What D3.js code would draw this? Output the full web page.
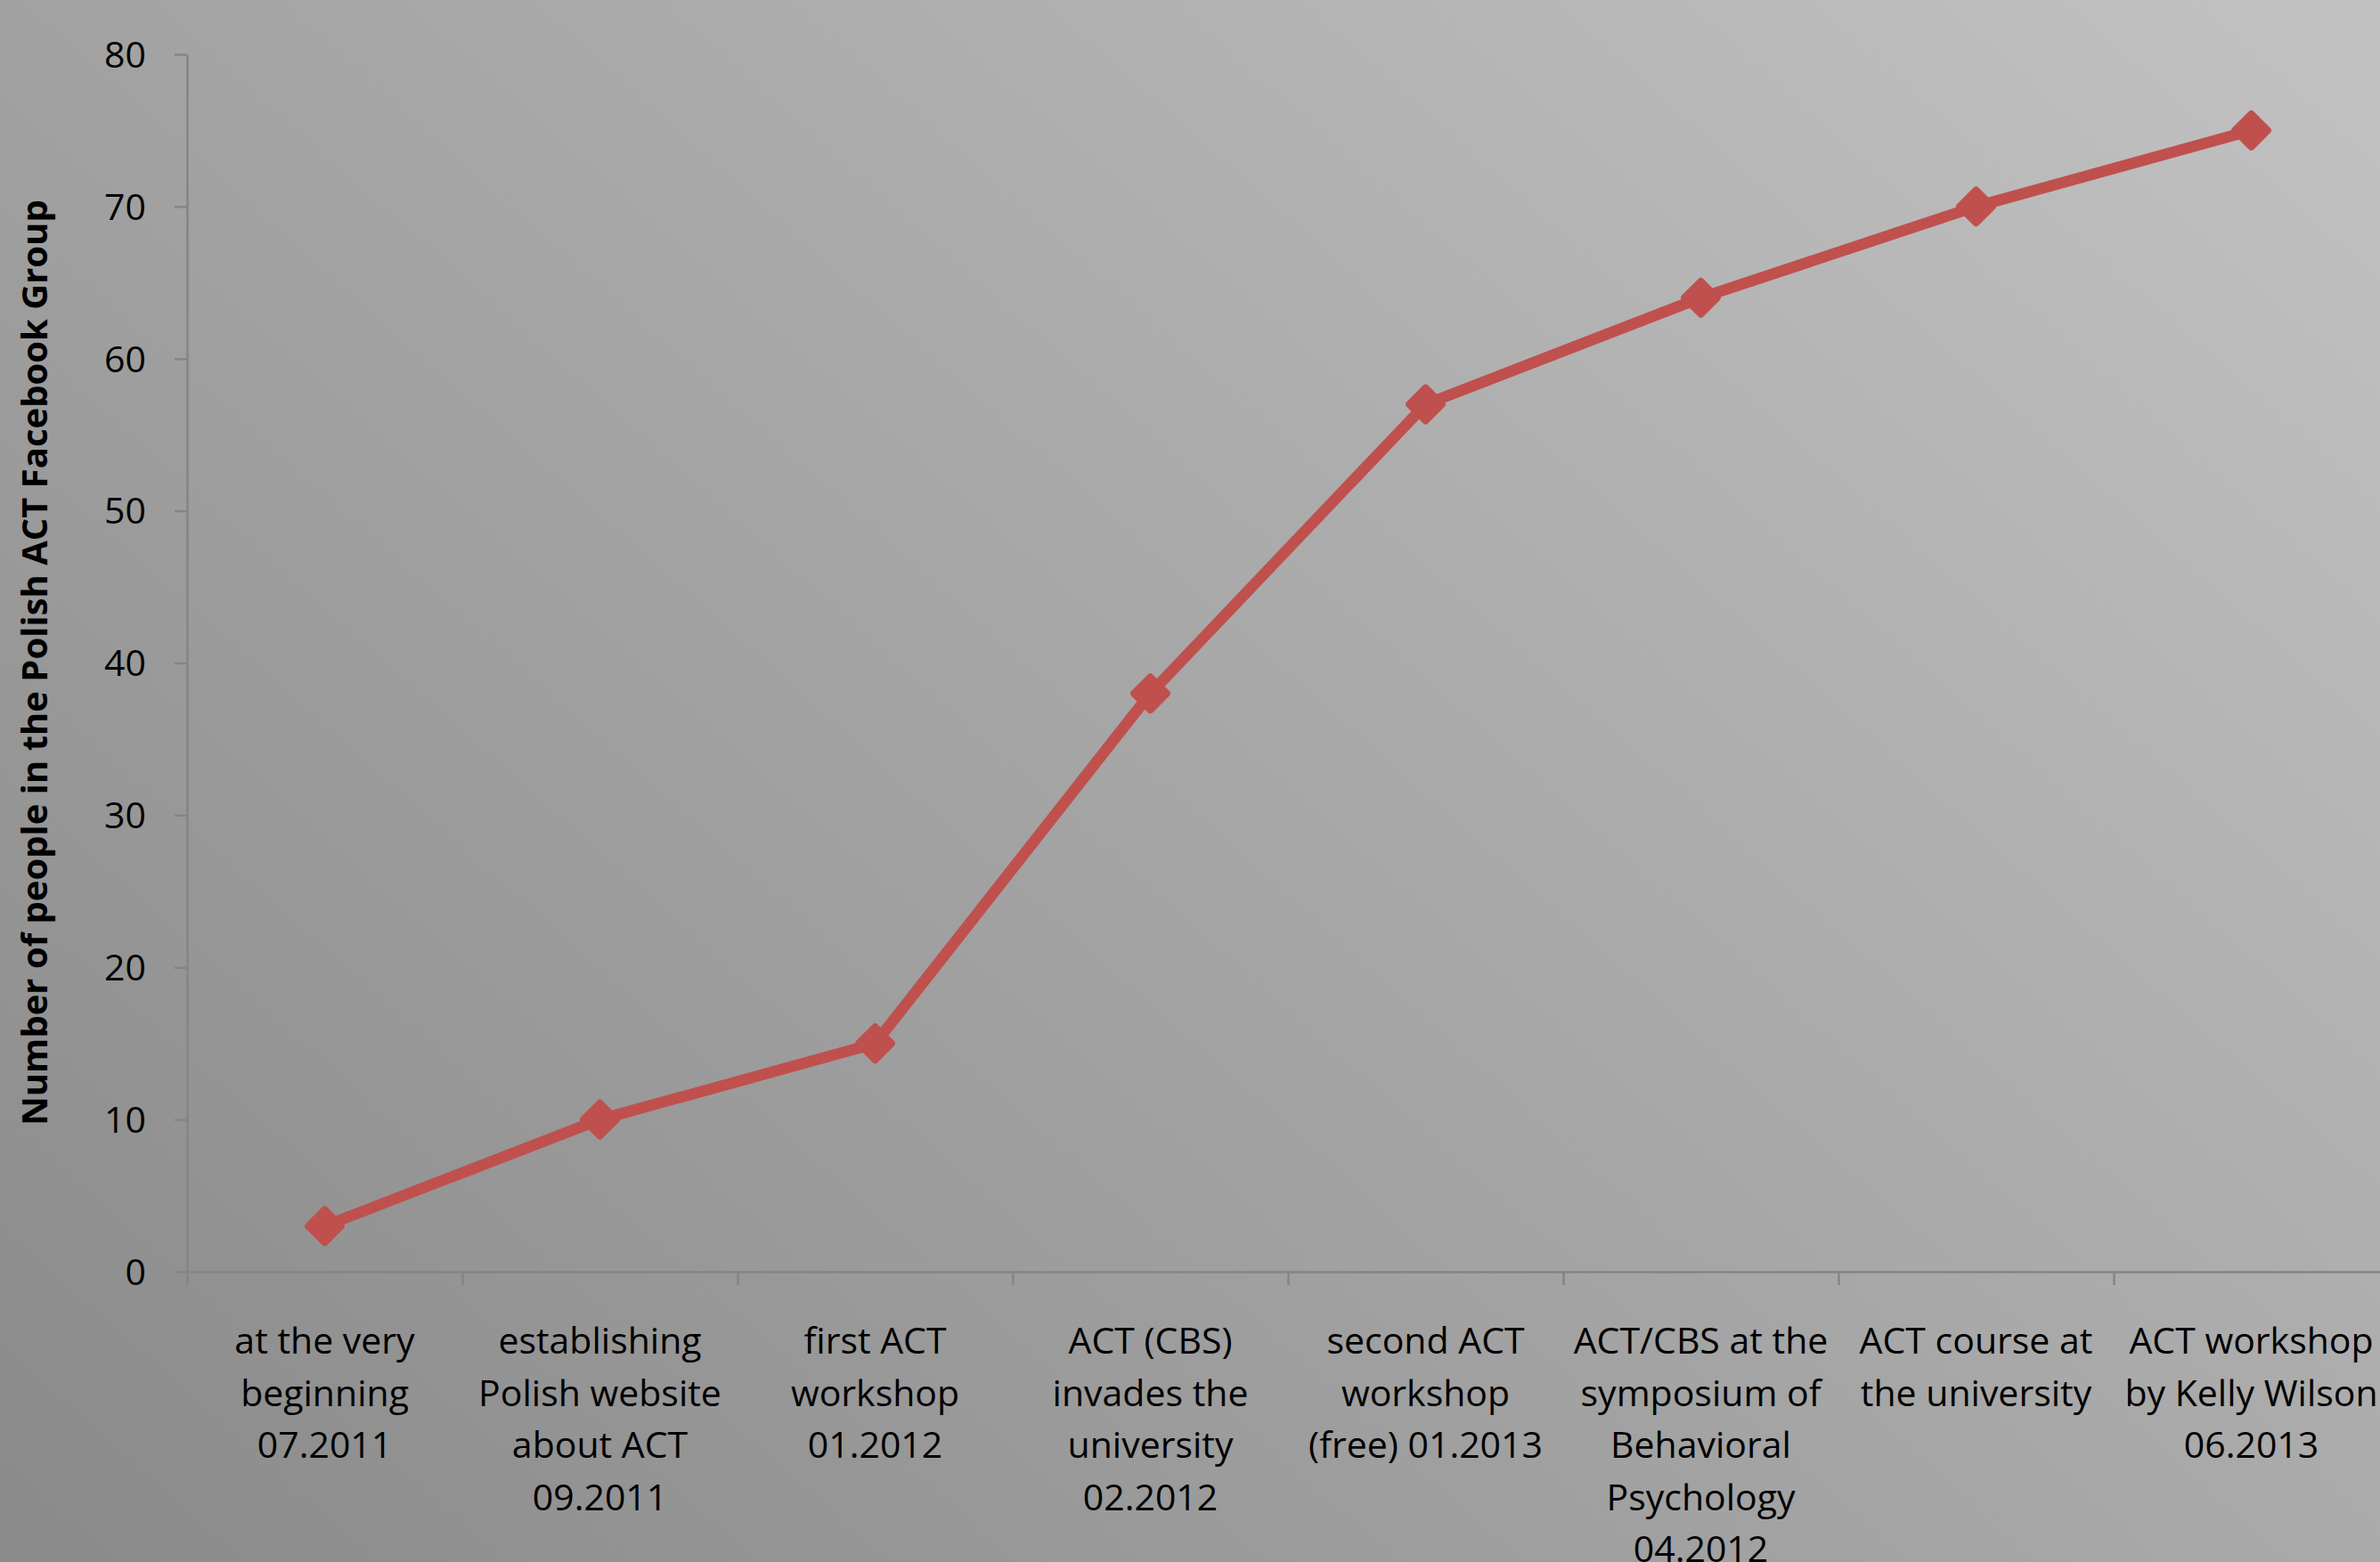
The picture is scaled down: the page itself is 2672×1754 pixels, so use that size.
<!DOCTYPE html>
<html>
<head>
<meta charset="utf-8">
<script src="https://cdn.jsdelivr.net/npm/d3@7"></script>
<style>
  html, body { margin: 0; padding: 0; overflow: hidden; }
  svg { display: block; }
  text { font-family: "Open Sans", sans-serif; fill: #000; }
</style>
</head>
<body>
<script>
// ---- data ----
const categories = [
  "at the very\nbeginning\n07.2011",
  "establishing\nPolish website\nabout ACT\n09.2011",
  "first ACT\nworkshop\n01.2012",
  "ACT (CBS)\ninvades the\nuniversity\n02.2012",
  "second ACT\nworkshop\n(free) 01.2013",
  "ACT/CBS at the\nsymposium of\nBehavioral\nPsychology\n04.2012",
  "ACT course at\nthe university",
  "ACT workshop\nby Kelly Wilson\n06.2013"
];
const members = [3, 10, 15, 38, 57, 64, 70, 75];
const yTicks = [0, 10, 20, 30, 40, 50, 60, 70, 80];
const yTitle = "Number of people in the Polish ACT Facebook Group";

// ---- layout ----
const W = 2672, H = 1754;
const plotLeft = 210, plotTop = 61, plotBottom = 1428;
const step = 309;

const svg = d3.select("body").append("svg")
  .attr("width", W).attr("height", H);

const defs = svg.append("defs");
const grad = defs.append("linearGradient")
  .attr("id", "bg").attr("gradientUnits", "userSpaceOnUse")
  .attr("x1", 50).attr("y1", 1704).attr("x2", 2004).attr("y2", -496);
grad.append("stop").attr("offset", 0).attr("stop-color", "#8b8b8b");
grad.append("stop").attr("offset", 1).attr("stop-color", "#c1c1c1");
svg.append("rect").attr("width", W).attr("height", H).attr("fill", "url(#bg)");

const x = d3.scaleBand().domain(categories).range([plotLeft, plotLeft + step * categories.length]).padding(0);
const xb = d3.scaleLinear().domain([0, categories.length]).range([plotLeft, plotLeft + step * categories.length]);
const y = d3.scaleLinear().domain([0, 80]).range([plotBottom, plotTop]);

const axisColor = "#858585";

// x boundary ticks + axis line
const gxb = svg.append("g").attr("transform", `translate(0,${plotBottom})`)
  .call(d3.axisBottom(xb).tickValues(d3.range(0, categories.length + 1)).tickSize(15).tickSizeOuter(0).tickFormat(""));
gxb.select(".domain").attr("stroke", axisColor).attr("stroke-width", 2.5);
gxb.selectAll(".tick line").attr("stroke", axisColor).attr("stroke-width", 2.5);

// x labels
const gx = svg.append("g").attr("transform", `translate(0,${plotBottom})`)
  .call(d3.axisBottom(x).tickSize(0).tickPadding(0));
gx.select(".domain").remove();
gx.selectAll(".tick text").each(function(d) {
  const t = d3.select(this);
  t.text(null).attr("y", 0).attr("dy", null)
    .attr("font-size", 41).attr("text-anchor", "middle")
    .style("font-family", '"Open Sans", sans-serif').attr("fill", "#000");
  d.split("\n").forEach((line, i) => {
    t.append("tspan").attr("x", 0).attr("y", 92 + i * 58.5).text(line);
  });
});

// y axis
const gy = svg.append("g").attr("transform", `translate(${plotLeft},0)`)
  .call(d3.axisLeft(y).tickValues(yTicks).tickSize(14).tickSizeOuter(0).tickPadding(32));
gy.select(".domain").attr("stroke", axisColor).attr("stroke-width", 2.5);
gy.selectAll(".tick line").attr("stroke", axisColor).attr("stroke-width", 2.5);
gy.selectAll(".tick text").attr("font-size", 41)
  .style("font-family", '"Open Sans", sans-serif').attr("fill", "#000").attr("dy", "0.35em");

// y title
svg.append("text")
  .attr("transform", `translate(53,${(225 + 1263) / 2}) rotate(-90)`)
  .attr("text-anchor", "middle")
  .attr("font-size", 40).attr("font-weight", "bold")
  .text(yTitle);

// line
const color = "#c0504d";
const pts = categories.map((c, i) => [x(c) + x.bandwidth() / 2, y(members[i])]);
svg.append("path")
  .attr("d", d3.line()(pts))
  .attr("fill", "none").attr("stroke", color)
  .attr("stroke-width", 12.5).attr("stroke-linejoin", "round");

// markers
const sym = d3.symbol().type(d3.symbolSquare).size(676);
svg.append("g").selectAll("path").data(pts).join("path")
  .attr("d", sym)
  .attr("transform", d => `translate(${d[0]},${d[1]}) rotate(45)`)
  .attr("fill", color).attr("stroke", color)
  .attr("stroke-width", 8).attr("stroke-linejoin", "round");
</script>
</body>
</html>
